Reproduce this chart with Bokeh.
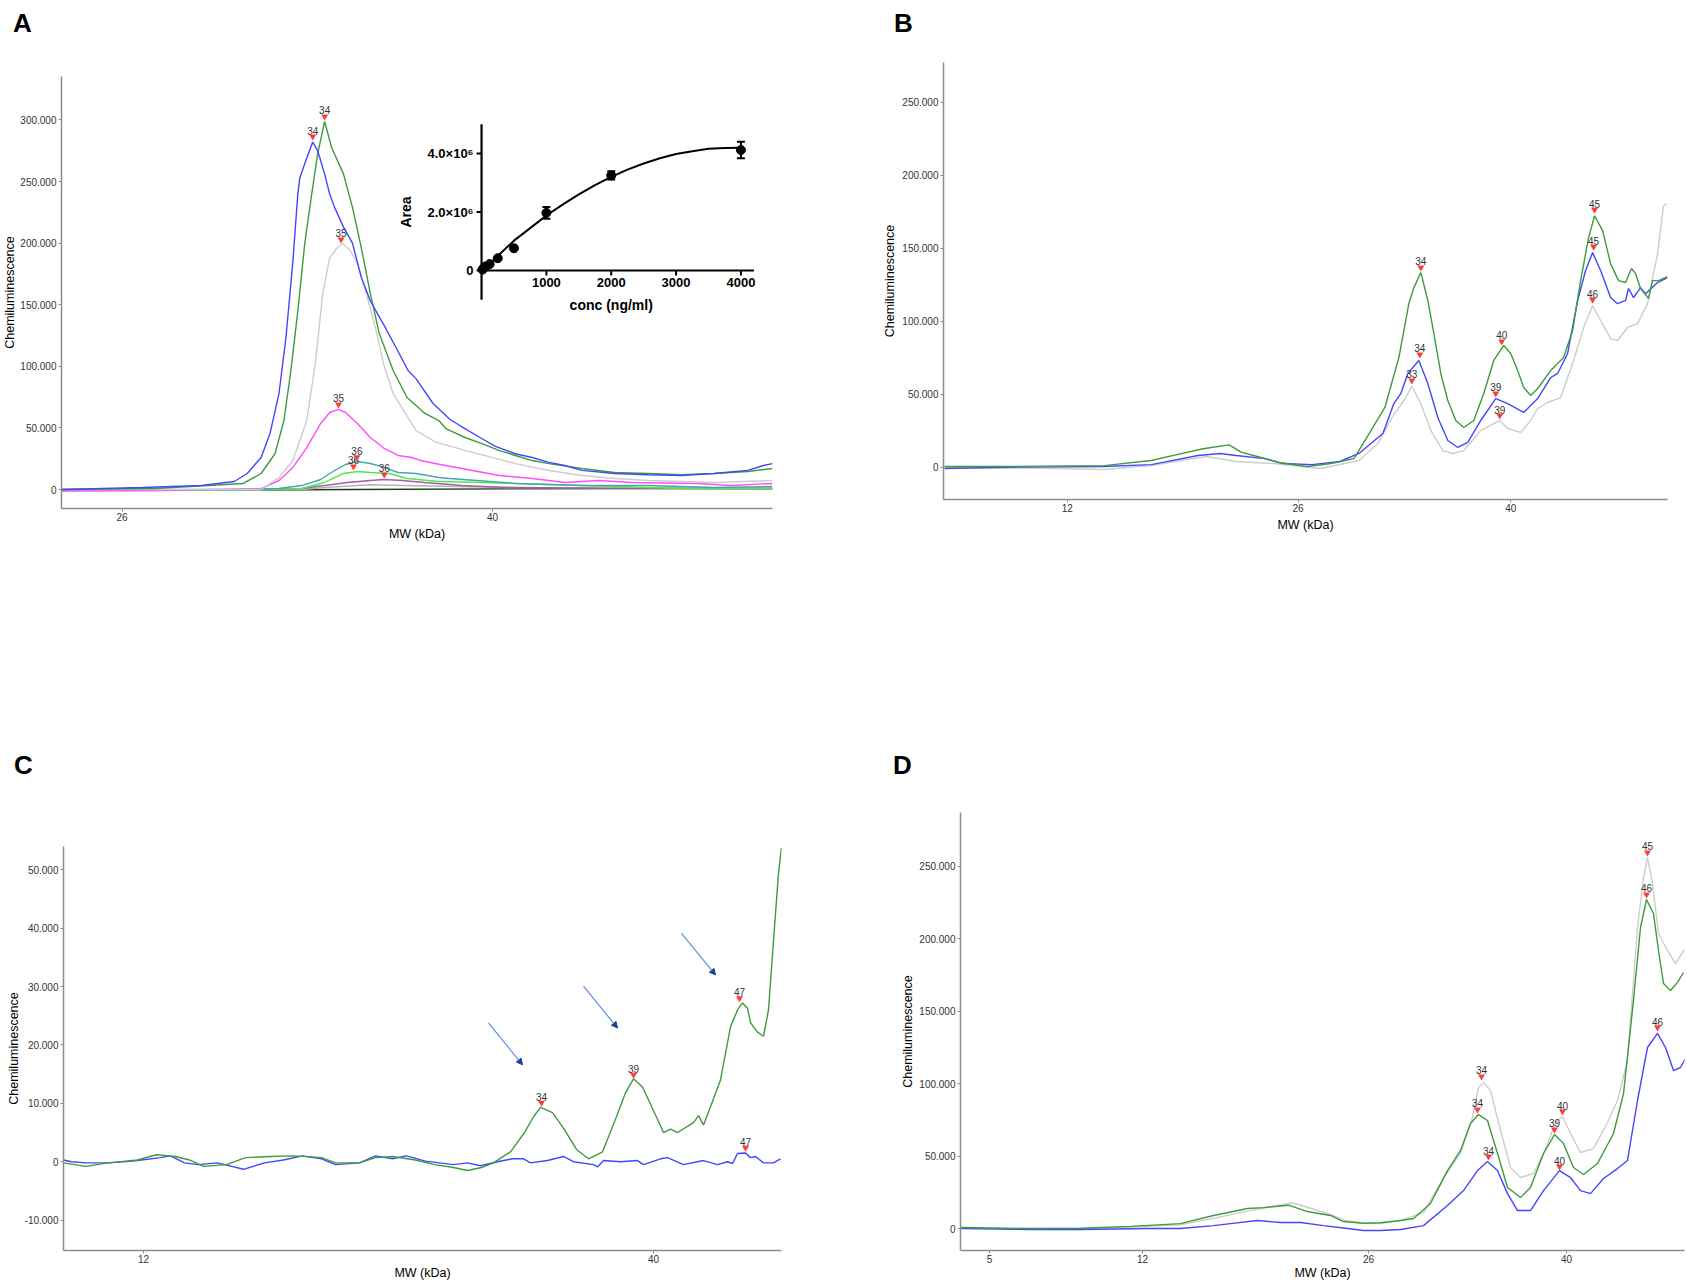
import math
from bokeh.plotting import figure
from bokeh.models import Range1d, FixedTicker, Arrow, NormalHead, ColumnDataSource, Div
from bokeh.layouts import row, column
from bokeh.embed import file_html
from bokeh.resources import INLINE
from bokeh.core.properties import value

FONT = "Liberation Sans"

# ======================= DATA =======================
# x: migration position along the capillary (position units), y: chemiluminescence

# ---------- Panel A ----------
A_x_ticks = [117, 490]
A_x_tick_labels = ["26", "40"]
A_y_ticks = [0, 50000, 100000, 150000, 200000, 250000, 300000]

A_blue_x = [56, 138, 197, 230, 243, 257, 266, 275, 282, 289, 294, 296, 303, 309, 314, 321, 326, 331, 340, 349,
            358, 367, 381, 395, 405, 413, 430, 447, 463, 480, 493, 513, 530, 547, 563, 580, 613, 647, 680, 713,
            747, 763, 772]
A_blue_y = [0, 1600, 3200, 6500, 13000, 26000, 45500, 77900, 123000, 185000, 240000, 253000, 269000, 282000,
            275000, 256000, 240000, 229000, 213000, 200000, 172000, 153000, 133000, 112000, 96600, 90000, 70000,
            57000, 49000, 41000, 35000, 29000, 26000, 22000, 19500, 15500, 13000, 12000, 11400, 13000, 15500,
            19500, 21000]

A_green_x = [56, 150, 239, 257, 271, 280, 287, 294, 301, 308, 314, 321, 328, 340, 349, 358, 367, 376, 390, 404,
             422, 436, 443, 463, 480, 497, 513, 530, 547, 580, 613, 647, 680, 713, 747, 772]
A_green_y = [0, 800, 4900, 13000, 29000, 56000, 96600, 145000, 200000, 240000, 272700, 298700, 277600, 256000,
             229000, 196000, 159000, 126600, 96600, 74700, 61700, 56000, 49500, 42000, 37000, 31600, 27600, 23500,
             21000, 17000, 13800, 13000, 12000, 13000, 14600, 17000]

A_lgray_x = [56, 257, 275, 289, 303, 312, 319, 326, 333, 339, 347, 354, 363, 372, 381, 390, 399, 413, 433, 463,
             497, 513, 547, 580, 613, 647, 713, 772]
A_lgray_y = [0, 0, 9700, 23500, 56000, 104700, 159000, 188000, 195600, 199700, 194000, 183000, 159000, 131500,
             100000, 77900, 66000, 47900, 38500, 31600, 24400, 21000, 15400, 11400, 8900, 7300, 5700, 7300]

A_magenta_x = [56, 150, 257, 275, 289, 303, 317, 326, 335, 342, 354, 367, 381, 395, 409, 418, 432, 459, 497, 530,
               563, 597, 630, 697, 730, 772]
A_magenta_y = [-1000, -800, 800, 7300, 17900, 34000, 53600, 62500, 65000, 62500, 53600, 42200, 33300, 27600,
               26000, 23500, 21100, 17000, 11400, 8900, 5700, 7300, 5700, 4900, 3200, 4900]

A_teal_x = [56, 200, 275, 298, 317, 331, 342, 354, 367, 381, 395, 413, 436, 447, 513, 580, 647, 713, 772]
A_teal_y = [-500, -500, 800, 3200, 8100, 15400, 20300, 22700, 21100, 17900, 13800, 13000, 9700, 8900, 4900,
            3200, 3200, 1600, 2400]

A_lime_x = [56, 250, 298, 321, 340, 354, 367, 386, 404, 436, 480, 580, 680, 772]
A_lime_y = [-800, -500, 800, 5700, 13000, 14600, 13800, 13000, 8900, 6500, 5700, 3200, 800, 800]

A_purple_x = [56, 250, 298, 321, 344, 367, 381, 399, 422, 459, 505, 597, 772]
A_purple_y = [-300, -300, 800, 3200, 5700, 7300, 8100, 7300, 5700, 3200, 1600, 1000, 500]

A_dgray_x = [56, 298, 321, 367, 413, 505, 772]
A_dgray_y = [0, 0, 1600, 3800, 3000, 1600, 800]

A_dark_x = [56, 200, 350, 500, 650, 772]
A_dark_y = [-800, -600, 0, 500, 800, 800]

A_peak_x = [309, 321, 337.5, 335, 353.5, 350, 381]
A_peak_y = [286500, 302800, 203000, 69000, 26200, 18700, 12200]
A_peak_lbl = ["34", "34", "35", "35", "36", "36", "36"]

# Inset (standard curve): conc (ng/ml) vs Area
IN_conc = [15.6, 31.25, 62.5, 125, 250, 500, 1000, 2000, 4000]
IN_area = [0.03e6, 0.08e6, 0.14e6, 0.22e6, 0.42e6, 0.76e6, 1.97e6, 3.25e6, 4.12e6]
IN_err = [0, 0, 0, 0, 0, 0, 0.20e6, 0.14e6, 0.28e6]
IN_fit_conc = [0, 100, 250, 500, 750, 1000, 1250, 1500, 1750, 2000, 2250, 2500, 2750, 3000, 3250, 3500, 3750, 4000]
IN_fit_area = [0, 0.17e6, 0.50e6, 1.02e6, 1.45e6, 1.88e6, 2.25e6, 2.60e6, 2.92e6, 3.20e6, 3.45e6, 3.66e6,
               3.84e6, 3.98e6, 4.08e6, 4.16e6, 4.19e6, 4.20e6]
IN_x_ticks = [1000, 2000, 3000, 4000]
IN_x_tick_labels = ["1000", "2000", "3000", "4000"]
IN_y_ticks = [0, 2.0e6, 4.0e6]
IN_y_tick_labels = ["0", "2.0\u00d710\u2076", "4.0\u00d710\u2076"]
IN_x_axis_max = 4200
IN_y_axis_min, IN_y_axis_max = -1.0e6, 5.0e6

# ---------- Panel B ----------
B_x_ticks = [1066, 1297, 1510]
B_x_tick_labels = ["12", "26", "40"]
B_y_ticks = [0, 50000, 100000, 150000, 200000, 250000]

B_green_x = [943, 1009, 1103, 1150, 1179, 1202, 1228, 1240, 1259, 1278, 1306, 1330, 1353, 1367, 1384, 1398, 1408,
             1413, 1420, 1427, 1433, 1440, 1447, 1455, 1463, 1473, 1483, 1493, 1503, 1510, 1517, 1523, 1530, 1537,
             1550, 1563, 1572, 1580, 1588, 1594, 1602, 1610, 1618, 1625, 1631, 1635, 1640, 1648, 1652, 1658, 1667]
B_green_y = [500, 500, 1100, 4600, 9100, 12600, 15300, 10300, 6800, 3200, 500, 2500, 5900, 21700, 40900, 75100,
             112000, 123000, 133300, 114200, 91600, 64200, 45700, 32000, 27200, 32000, 50500, 73100, 83400, 77900,
             66200, 54600, 49100, 53900, 66200, 75100, 93600, 127800, 157200, 172200, 162000, 139400, 127800,
             126500, 136100, 132600, 122400, 115500, 127800, 127800, 130500]

B_blue_x = [943, 1009, 1103, 1150, 1197, 1219, 1235, 1264, 1282, 1311, 1339, 1358, 1382, 1393, 1400, 1407, 1418,
            1427, 1437, 1447, 1457, 1467, 1480, 1495, 1507, 1523, 1537, 1550, 1557, 1567, 1577, 1585, 1592, 1600,
            1610, 1617, 1625, 1628, 1633, 1640, 1645, 1657, 1667]
B_blue_y = [-900, 0, 500, 1800, 8000, 9400, 8000, 5900, 2500, 1800, 3900, 9400, 23100, 43600, 50500, 64200,
            73100, 57300, 34000, 18300, 13500, 17000, 32000, 47000, 43600, 37500, 47000, 61400, 64200, 77900,
            114200, 134700, 147000, 134700, 116200, 112000, 114200, 122400, 116200, 123000, 118800, 126500, 129900]

B_lgray_x = [943, 1056, 1103, 1150, 1205, 1235, 1273, 1320, 1358, 1377, 1391, 1403, 1411, 1420, 1430, 1442, 1452,
             1463, 1480, 1493, 1499, 1507, 1520, 1530, 1537, 1547, 1560, 1573, 1583, 1592, 1600, 1610, 1617, 1627,
             1637, 1647, 1657, 1663, 1666]
B_lgray_y = [-200, -900, -1600, 1100, 7300, 3900, 2500, -900, 4600, 16200, 34000, 45700, 55300, 43600, 25100,
             11400, 9400, 11400, 25100, 29900, 32000, 26500, 23800, 32000, 40200, 44300, 47700, 73100, 95700,
             110700, 100500, 88100, 86800, 95700, 98300, 112000, 146200, 179100, 180500]

B_peak_x = [1420, 1419, 1411, 1501, 1495, 1499, 1594, 1593, 1592]
B_peak_y = [136800, 77200, 59400, 86100, 50500, 35400, 176400, 151000, 114800]
B_peak_lbl = ["34", "34", "33", "40", "39", "39", "45", "45", "46"]

# ---------- Panel C ----------
C_x_ticks = [143, 653]
C_x_tick_labels = ["12", "40"]
C_y_ticks = [-10000, 0, 10000, 20000, 30000, 40000, 50000]

C_green_x = [63, 85, 108, 137, 156, 175, 189, 203, 226, 245, 269, 293, 321, 335, 359, 375, 392, 415, 434, 453, 467,
             481, 493, 510, 524, 533, 540, 552, 564, 576, 588, 602, 616, 625, 633, 642, 654, 663, 670, 677, 693,
             698, 703, 710, 720, 730, 737, 742, 747, 750, 757, 763, 768, 773, 778, 781]
C_green_y = [-200, -800, -200, 300, 1200, 900, 300, -800, -500, 700, 900, 1000, 700, -200, -200, 700, 900, 300,
             -500, -1000, -1500, -1000, -200, 1700, 5000, 7700, 9300, 8400, 5500, 2100, 500, 1700, 7700, 11800,
             14200, 12800, 8400, 5000, 5600, 5000, 6700, 7900, 6300, 9400, 14000, 23100, 26000, 27200, 26300,
             23800, 22200, 21500, 26000, 37900, 49400, 53800]

C_blue_x = [63, 71, 85, 108, 132, 141, 160, 170, 184, 198, 217, 243, 264, 283, 302, 321, 335, 359, 375, 392, 406,
            425, 439, 453, 467, 480, 497, 512, 523, 530, 547, 563, 573, 593, 597, 603, 620, 637, 643, 660, 667,
            683, 703, 717, 727, 732, 737, 745, 750, 755, 763, 773, 780]
C_blue_y = [300, 0, -200, -200, 100, 300, 700, 1000, -200, -500, -200, -1300, -200, 300, 1000, 500, -500, -200,
            1000, 500, 1000, 100, -200, -500, -200, -700, 0, 500, 500, -200, 200, 900, 0, -500, -900, 200, 0, 200,
            -500, 500, 700, -500, 200, -500, 0, -300, 1400, 1500, 700, 900, -200, -200, 500]

C_peak_x = [541, 633, 739, 745]
C_peak_y = [10100, 14900, 28000, 2400]
C_peak_lbl = ["34", "39", "47", "47"]

C_arrow_x0 = [488, 583, 681]
C_arrow_y0 = [23800, 30100, 39100]
C_arrow_x1 = [522, 617, 715]
C_arrow_y1 = [16600, 22900, 32000]

# ---------- Panel D ----------
D_x_ticks = [989, 1142, 1368, 1566]
D_x_tick_labels = ["5", "12", "26", "40"]
D_y_ticks = [0, 50000, 100000, 150000, 200000, 250000]

D_blue_x = [960, 1030, 1080, 1147, 1180, 1213, 1230, 1257, 1280, 1300, 1323, 1347, 1363, 1380, 1400, 1423, 1447,
            1463, 1477, 1487, 1497, 1507, 1517, 1530, 1543, 1559, 1570, 1580, 1590, 1603, 1617, 1627, 1637, 1647,
            1657, 1665, 1673, 1680, 1685]
D_blue_y = [0, -700, -700, 0, 0, 2000, 3400, 5500, 4100, 4100, 2000, 0, -1400, -1400, -700, 2000, 15900, 26200,
            40000, 46300, 40000, 24100, 12400, 12400, 26200, 40000, 35200, 26200, 24100, 34500, 41400, 47000,
            88400, 125000, 134700, 125000, 109100, 111200, 117400]

D_green_x = [960, 1013, 1080, 1130, 1180, 1213, 1247, 1263, 1288, 1307, 1330, 1343, 1363, 1380, 1400, 1413, 1430,
             1447, 1460, 1470, 1478, 1487, 1497, 1507, 1520, 1530, 1543, 1554, 1563, 1573, 1583, 1597, 1613, 1623,
             1633, 1640, 1646, 1653, 1658, 1663, 1670, 1677, 1683]
D_green_y = [700, 0, 200, 1500, 3400, 9000, 13800, 14400, 16100, 11700, 9000, 4800, 3600, 4000, 5500, 6900, 17300,
             40000, 53900, 72500, 78700, 74600, 51800, 28300, 21400, 28300, 51800, 64900, 58700, 42100, 37300,
             44900, 65600, 93200, 157500, 207900, 227200, 217500, 192000, 169200, 164400, 170000, 176800]

D_lgray_x = [960, 1013, 1080, 1130, 1180, 1213, 1247, 1270, 1292, 1310, 1330, 1345, 1363, 1380, 1400, 1423, 1443,
             1460, 1472, 1478, 1483, 1490, 1500, 1510, 1520, 1533, 1543, 1552, 1557, 1562, 1570, 1580, 1593, 1607,
             1617, 1627, 1637, 1643, 1647, 1652, 1658, 1667, 1675, 1682, 1685]
D_lgray_y = [500, 0, 0, 1000, 2500, 7000, 12000, 15000, 17800, 14000, 9700, 5500, 3600, 3400, 5500, 11000, 35000,
             51800, 76700, 97400, 100800, 95300, 67700, 42100, 35200, 38000, 51800, 67700, 74600, 77300, 65600,
             52500, 55200, 73200, 88400, 116000, 207900, 242400, 256200, 238300, 203700, 192000, 183000, 190600,
             193400]

D_peak_x = [1647, 1646, 1657, 1481, 1477, 1488, 1562, 1554, 1559]
D_peak_y = [259700, 230700, 138800, 105000, 82200, 49700, 80800, 68400, 42800]
D_peak_lbl = ["45", "46", "46", "34", "34", "34", "40", "39", "40"]

# ======================= STYLE =======================
COL_BLUE = "#4545ff"
COL_GREEN = "#3e9a3e"
COL_LGRAY = "#cdcdcd"
COL_MAGENTA = "#ff4cff"
COL_TEAL = "#48a6a6"
COL_LIME = "#4cec4c"
COL_PURPLE = "#a65ca6"
COL_DGRAY = "#b4b4b4"
COL_DARK = "#1d3b1d"
COL_AXIS = "#8c8c8c"
LW = 1.4


def fmt_dot(v):
    s = f"{abs(int(v)):,}".replace(",", ".")
    return ("-" if v < 0 else "") + s


def letter_div(letter, width, height, pad_top, pad_left):
    html = ('<div style="margin:0;padding:%dpx 0 0 %dpx;font-family:\'Liberation Sans\',Arial,sans-serif;'
            'font-size:26px;line-height:26px;font-weight:bold;color:#000;">%s</div>' % (pad_top, pad_left, letter))
    return Div(text=html, width=width, height=height, margin=0)


def panel(width, height, xr, yr, borders, xticks, xlabels, yticks, xlab_standoff, ylab_standoff):
    bl, br, bt, bb = borders
    p = figure(width=width, height=height, x_range=Range1d(*xr), y_range=Range1d(*yr),
               output_backend="svg", toolbar_location=None, tools="",
               min_border_left=bl, min_border_right=br, min_border_top=bt, min_border_bottom=bb)
    p.outline_line_color = None
    p.xgrid.visible = False
    p.ygrid.visible = False
    for ax in (p.xaxis[0], p.yaxis[0]):
        ax.axis_line_color = COL_AXIS
        ax.axis_line_width = 1.5
        ax.major_tick_line_color = COL_AXIS
        ax.major_tick_in = 0
        ax.major_tick_out = 3
        ax.minor_tick_line_color = None
        ax.major_label_text_font = FONT
        ax.major_label_text_font_size = "10px"
        ax.major_label_text_color = "#333333"
        ax.axis_label_text_font = FONT
        ax.axis_label_text_font_size = "12.5px"
        ax.axis_label_text_font_style = "normal"
        ax.axis_label_text_color = "black"
    p.yaxis[0].major_label_standoff = 2
    p.xaxis[0].major_label_standoff = 1
    p.xaxis.ticker = FixedTicker(ticks=xticks)
    p.xaxis.major_label_overrides = {t: l for t, l in zip(xticks, xlabels)}
    p.yaxis.ticker = FixedTicker(ticks=yticks)
    p.yaxis.major_label_overrides = {t: fmt_dot(t) for t in yticks}
    p.xaxis.axis_label = "MW (kDa)"
    p.xaxis.axis_label_standoff = xlab_standoff
    p.yaxis.axis_label = "Chemiluminescence"
    p.yaxis.axis_label_standoff = ylab_standoff
    return p


def add_peaks(p, xs, ys, labels):
    src = ColumnDataSource(dict(x=xs, y=ys, t=labels))
    p.text("x", "y", text="t", source=src, text_align="center", text_baseline="alphabetic",
           y_offset=-6, text_font=value(FONT), text_font_size="10px", text_color="#333333")
    p.scatter("x", "y", source=src, marker="inverted_triangle", size=7,
              fill_color="#ff3c3c", line_color=None)


TOP_DIV_H = 48       # letter strip above top-row plots
BOT_DIV_H = 150      # letter strip above bottom-row plots
LEFT_W, RIGHT_W = 880, 805
TOP_H, BOT_H = 640, 642

# ======================= PANEL A =======================
A_FW, A_FH = 716, 432
pa = panel(LEFT_W, TOP_H - TOP_DIV_H, (56, 772), (-15420, 335230), (56, 108, 28, 132),
           A_x_ticks, A_x_tick_labels, A_y_ticks, 3, 0)
for xs, ys, c in [(A_dark_x, A_dark_y, COL_DARK), (A_dgray_x, A_dgray_y, COL_DGRAY),
                  (A_purple_x, A_purple_y, COL_PURPLE), (A_lime_x, A_lime_y, COL_LIME),
                  (A_teal_x, A_teal_y, COL_TEAL), (A_magenta_x, A_magenta_y, COL_MAGENTA),
                  (A_lgray_x, A_lgray_y, COL_LGRAY), (A_green_x, A_green_y, COL_GREEN),
                  (A_blue_x, A_blue_y, COL_BLUE)]:
    pa.line(xs, ys, line_color=c, line_width=LW)
add_peaks(pa, A_peak_x, A_peak_y, A_peak_lbl)

# inset placed in frame pixels (origin offsets and pixel scale)
IN_X0, IN_Y0 = 423, 238            # inset origin, px from frame left / bottom
IN_KX = 65.3 / 1000.0              # px per ng/ml
IN_KY = 58.5 / 2.0e6               # px per area unit
pa.extra_x_ranges = {"conc": Range1d(-IN_X0 / IN_KX, (A_FW - IN_X0) / IN_KX)}
pa.extra_y_ranges = {"area": Range1d(-IN_Y0 / IN_KY, (A_FH - IN_Y0) / IN_KY)}
kw = dict(x_range_name="conc", y_range_name="area")
ins_font = dict(text_font=value(FONT), text_font_style="bold", text_color="black")
pa.segment(x0=[0, 0], y0=[IN_y_axis_min, 0], x1=[0, IN_x_axis_max], y1=[IN_y_axis_max, 0],
           line_color="black", line_width=2.2, **kw)
pa.segment(x0=[-5 / IN_KX] * len(IN_y_ticks), y0=IN_y_ticks, x1=[0] * len(IN_y_ticks), y1=IN_y_ticks,
           line_color="black", line_width=2, **kw)
pa.segment(x0=IN_x_ticks, y0=[0] * len(IN_x_ticks), x1=IN_x_ticks, y1=[-5 / IN_KY] * len(IN_x_ticks),
           line_color="black", line_width=2, **kw)
pa.text(x=[-8 / IN_KX] * len(IN_y_ticks), y=IN_y_ticks, text=IN_y_tick_labels, text_align="right",
        text_baseline="middle", text_font_size="13px", **ins_font, **kw)
pa.text(x=IN_x_ticks, y=[-7 / IN_KY] * len(IN_x_ticks), text=IN_x_tick_labels, text_align="center",
        text_baseline="top", text_font_size="13px", **ins_font, **kw)
pa.text(x=[2000], y=[-34 / IN_KY], text=["conc (ng/ml)"], text_align="center", text_baseline="middle",
        text_font_size="14px", **ins_font, **kw)
pa.text(x=[-76 / IN_KX], y=[2.0e6], text=["Area"], angle=math.pi / 2, text_align="center",
        text_baseline="middle", text_font_size="14px", **ins_font, **kw)
pa.line(IN_fit_conc, IN_fit_area, line_color="black", line_width=2, **kw)
lo = [a - e for a, e in zip(IN_area, IN_err)]
hi = [a + e for a, e in zip(IN_area, IN_err)]
pa.segment(x0=IN_conc, y0=lo, x1=IN_conc, y1=hi, line_color="black", line_width=2, **kw)
cap = 4 / IN_KX
for ends in (lo, hi):
    pa.segment(x0=[c - cap for c in IN_conc], y0=ends, x1=[c + cap for c in IN_conc], y1=ends,
               line_color="black", line_width=2, **kw)
pa.scatter(IN_conc, IN_area, size=9, color="black", **kw)

# ======================= PANEL B =======================
pb = panel(RIGHT_W, TOP_H - TOP_DIV_H, (942, 1667), (-22120, 277180), (62, 18, 14, 141),
           B_x_ticks, B_x_tick_labels, B_y_ticks, 3, 2)
for xs, ys, c in [(B_lgray_x, B_lgray_y, COL_LGRAY), (B_blue_x, B_blue_y, COL_BLUE),
                  (B_green_x, B_green_y, COL_GREEN)]:
    pb.line(xs, ys, line_color=c, line_width=LW)
add_peaks(pb, B_peak_x, B_peak_y, B_peak_lbl)

# ======================= PANEL C =======================
pc = panel(LEFT_W, BOT_H - BOT_DIV_H, (63, 781), (-15210, 54000), (63, 99, 56, 31),
           C_x_ticks, C_x_tick_labels, C_y_ticks, 0, 1)
for xs, ys, c in [(C_blue_x, C_blue_y, COL_BLUE), (C_green_x, C_green_y, COL_GREEN)]:
    pc.line(xs, ys, line_color=c, line_width=LW)
add_peaks(pc, C_peak_x, C_peak_y, C_peak_lbl)
pc.add_layout(Arrow(end=NormalHead(size=6, line_color="#1d3e9a", fill_color="#1d3e9a"),
                    line_color="#5b8ee0", line_width=1.2,
                    source=ColumnDataSource(dict(x0=C_arrow_x0, y0=C_arrow_y0, x1=C_arrow_x1, y1=C_arrow_y1)),
                    x_start="x0", y_start="y0", x_end="x1", y_end="y1"))

# ======================= PANEL D =======================
pd_ = panel(RIGHT_W, BOT_H - BOT_DIV_H, (960, 1684), (-15190, 287290), (80, 1, 22, 32),
            D_x_ticks, D_x_tick_labels, D_y_ticks, 0, 1)
for xs, ys, c in [(D_lgray_x, D_lgray_y, COL_LGRAY), (D_blue_x, D_blue_y, COL_BLUE),
                  (D_green_x, D_green_y, COL_GREEN)]:
    pd_.line(xs, ys, line_color=c, line_width=LW)
add_peaks(pd_, D_peak_x, D_peak_y, D_peak_lbl)

cell_a = column(letter_div("A", LEFT_W, TOP_DIV_H, 10, 13), pa)
cell_b = column(letter_div("B", RIGHT_W, TOP_DIV_H, 10, 14), pb)
cell_c = column(letter_div("C", LEFT_W, BOT_DIV_H, 112, 14), pc)
cell_d = column(letter_div("D", RIGHT_W, BOT_DIV_H, 112, 13), pd_)

layout = column(row(cell_a, cell_b), row(cell_c, cell_d))
open("out.html", "w").write(file_html(layout, INLINE))
